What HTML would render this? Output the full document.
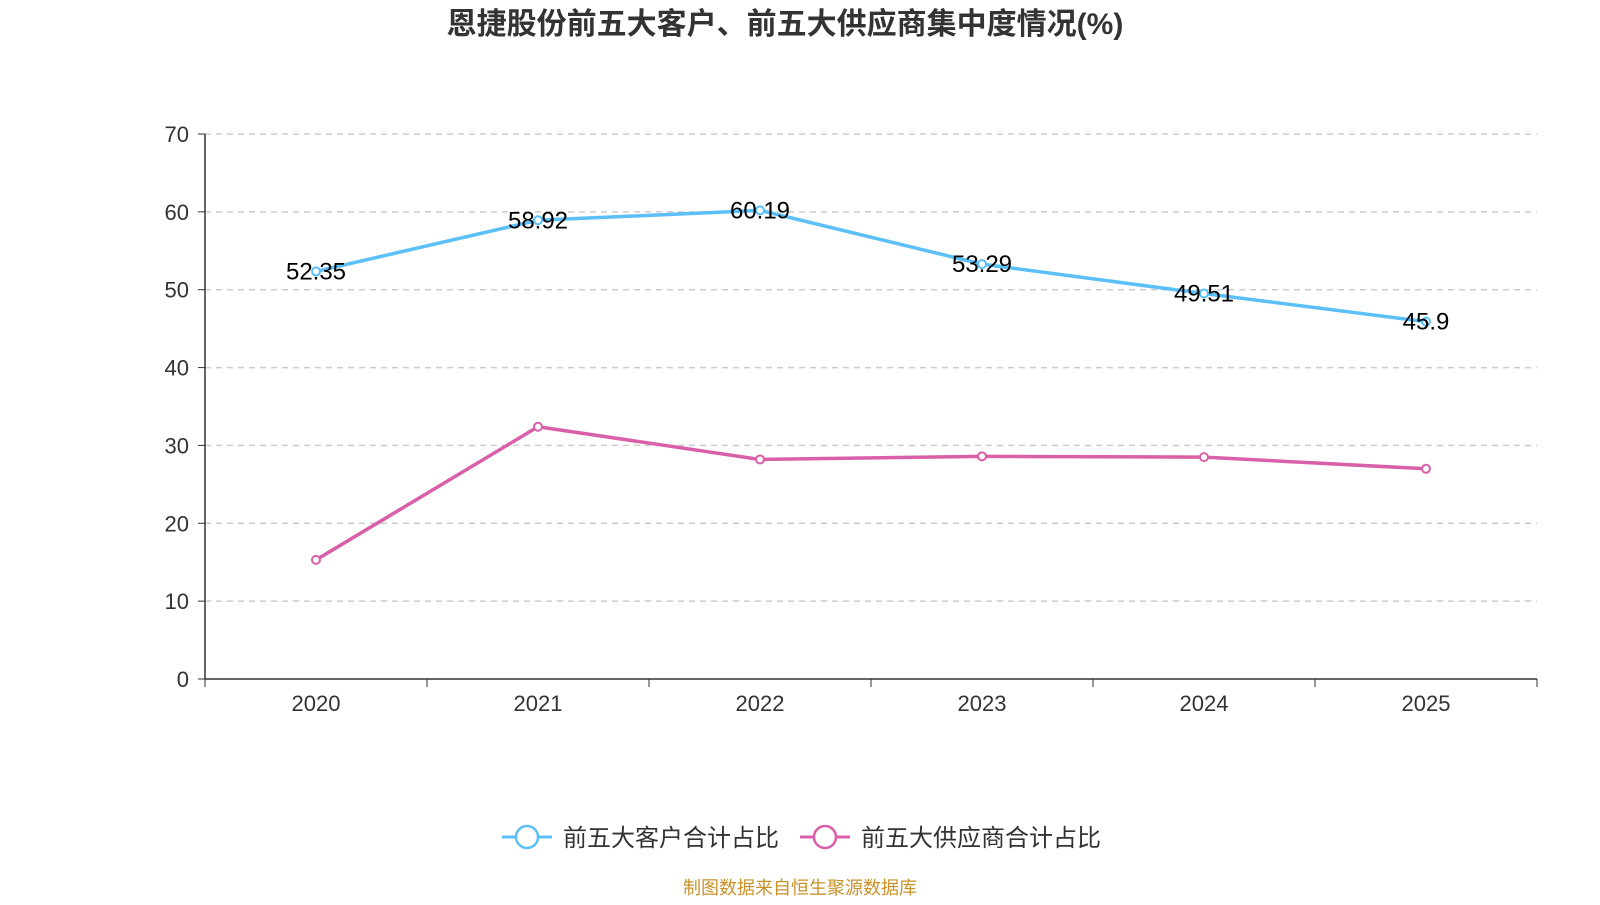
<!DOCTYPE html>
<html><head><meta charset="utf-8"><style>
body{margin:0;background:#fff;font-family:"Liberation Sans","Noto Sans CJK SC",sans-serif}
</style></head><body>
<svg id="c" width="1600" height="900" xmlns="http://www.w3.org/2000/svg" style="font-family:'Liberation Sans','Noto Sans CJK SC',sans-serif">
<text x="785" y="34" text-anchor="middle" font-size="30" font-weight="bold" fill="#333">恩捷股份前五大客户、前五大供应商集中度情况(%)</text>
<g id="grid"></g><g id="axes"></g><g id="series"></g>
<g>
<g>
<line x1="502" y1="837" x2="552" y2="837" stroke="#5bc0f8" stroke-width="3"/>
<circle cx="527" cy="837" r="11" fill="#fff" stroke="#5bc0f8" stroke-width="2.5"/>
<text x="563" y="846" font-size="24" fill="#333">前五大客户合计占比</text></g>
<g>
<line x1="800" y1="837" x2="850" y2="837" stroke="#d95fa8" stroke-width="3"/>
<circle cx="825" cy="837" r="11" fill="#fff" stroke="#d95fa8" stroke-width="2.5"/>
<text x="861" y="846" font-size="24" fill="#333">前五大供应商合计占比</text></g>
</g>
<text x="800" y="894" text-anchor="middle" font-size="18" fill="#c8922a">制图数据来自恒生聚源数据库</text>
</svg>
<script>
const categories=["2020","2021","2022","2023","2024","2025"];
const customers=[52.35,58.92,60.19,53.29,49.51,45.9];
const suppliers=[15.3,32.4,28.2,28.6,28.5,27.0];
const yTicks=[0,10,20,30,40,50,60,70];
const NS="http://www.w3.org/2000/svg";
const L=205,R=1537,T=134,B=679,yMax=70;
const bw=(R-L)/categories.length;
const xs=i=>L+bw*(i+0.5);
const ys=v=>B-(v/yMax)*(B-T);
function mk(t,a,p){const e=document.createElementNS(NS,t);for(const k in a)e.setAttribute(k,a[k]);p.appendChild(e);return e;}
const grid=document.getElementById('grid'),axes=document.getElementById('axes'),ser=document.getElementById('series');
yTicks.forEach(v=>{
 if(v>0){const g=mk('line',{x1:L,x2:R,y1:ys(v),y2:ys(v),stroke:'#ccc','stroke-dasharray':'6,5','stroke-width':1.5},grid);
 
 }
 const tk=mk('line',{x1:L-7,x2:L,y1:ys(v),y2:ys(v),stroke:'#333'},axes);
 
 
 const t=mk('text',{x:L-16,y:ys(v)+8,'text-anchor':'end','font-size':22,fill:'#333'},axes);t.textContent=v;
 
 
});
const ya=mk('line',{x1:L,x2:L,y1:T,y2:B,stroke:'#333','stroke-width':1.5},axes);


const xa=mk('line',{x1:L,x2:R,y1:B,y2:B,stroke:'#333','stroke-width':1.5},axes);


for(let i=0;i<=categories.length;i++){const tk=mk('line',{x1:L+bw*i,x2:L+bw*i,y1:B,y2:B+8,stroke:'#333'},axes);
 
 }
categories.forEach((c,i)=>{const t=mk('text',{x:xs(i),y:B+32,'text-anchor':'middle','font-size':22,fill:'#333'},axes);t.textContent=c;
 
 });
function draw(data,color,name,labels){
 const p=mk('polyline',{points:data.map((v,i)=>xs(i)+','+ys(v)).join(' '),fill:'none',stroke:color,'stroke-width':3.5},ser);
 
 
 data.forEach((v,i)=>{const c=mk('circle',{cx:xs(i),cy:ys(v),r:4,fill:'#fff',stroke:color,'stroke-width':2},ser);
  
  
  if(labels){const t=mk('text',{x:xs(i),y:ys(v)+8,'text-anchor':'middle','font-size':24,fill:'#000'},ser);t.textContent=v;
  
  }});
}
draw(suppliers,'#d95fa8','suppliers',false);
draw(customers,'#5bc0f8','customers',true);
</script>
</body></html>
